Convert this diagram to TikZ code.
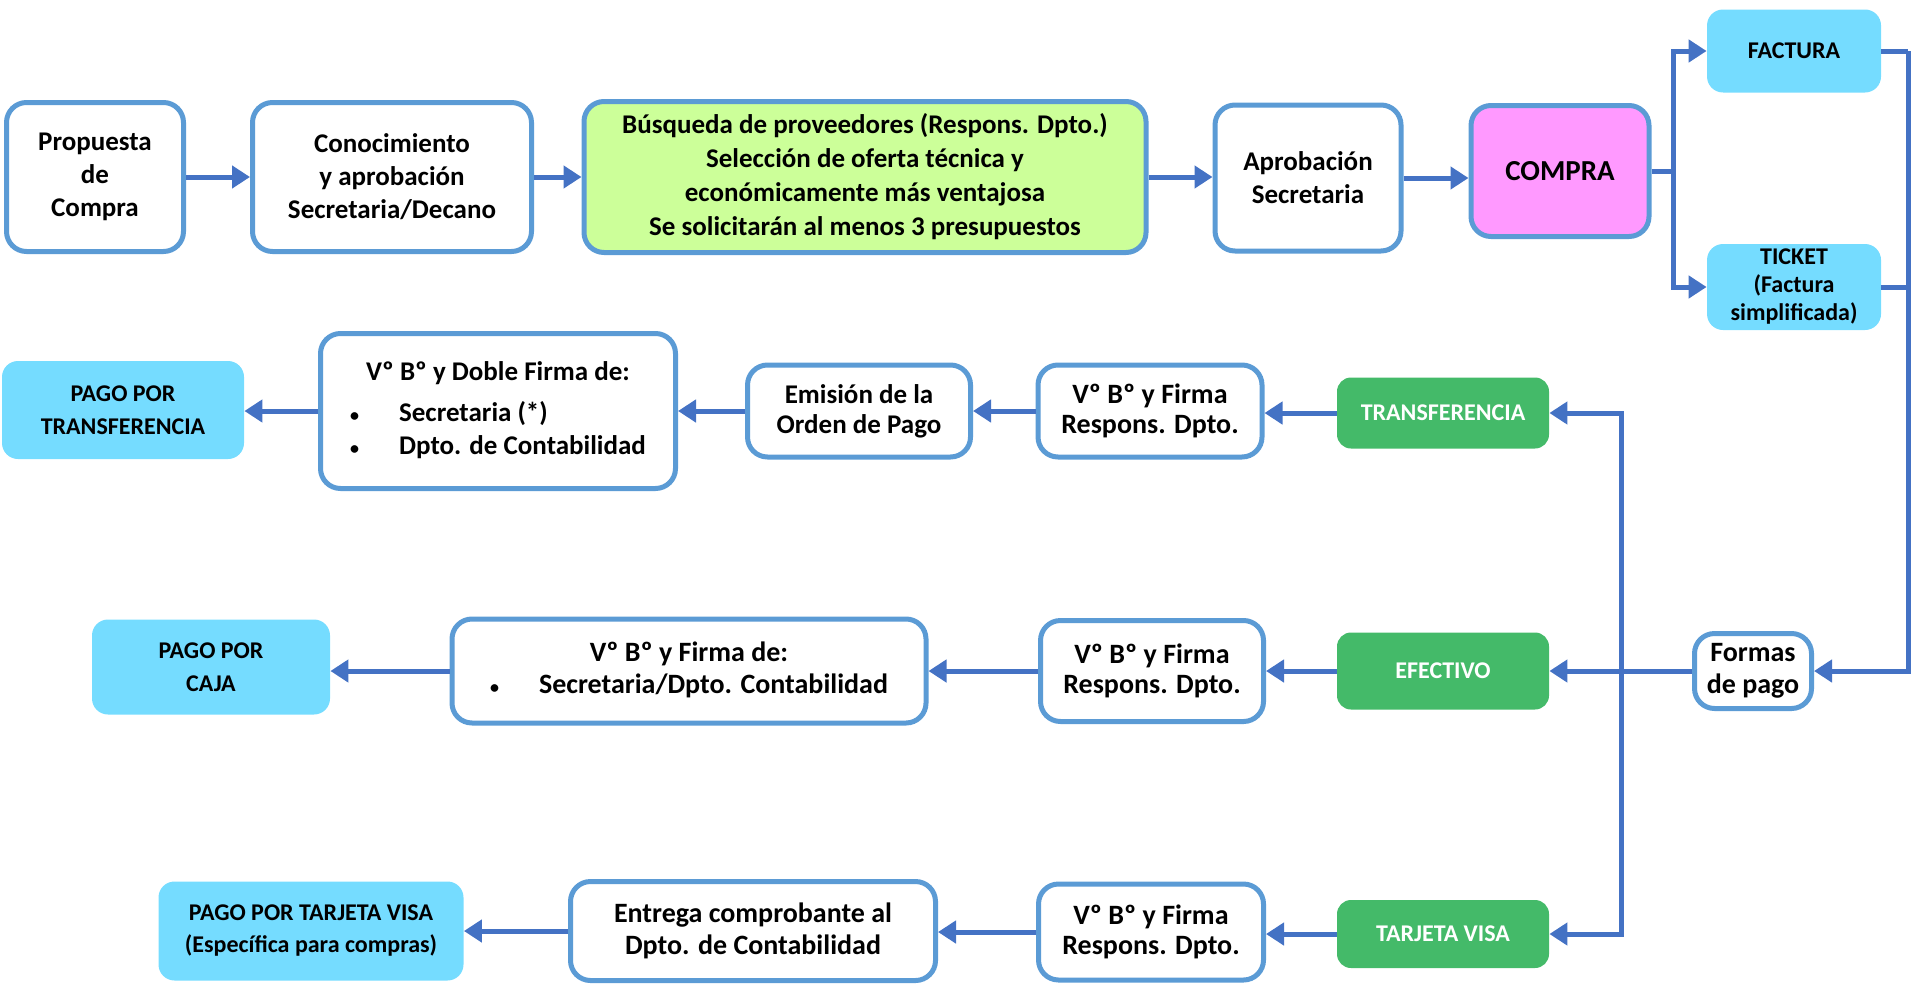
\documentclass[tikz,border=0pt]{standalone}
\usepackage{fontspec}
\setmainfont{Carlito}
\usetikzlibrary{arrows.meta}
\definecolor{bord}{HTML}{5B9BD5}
\definecolor{arrc}{HTML}{4472C4}
\definecolor{grn}{HTML}{44BA69}
\definecolor{lblue}{HTML}{75DCFF}
\definecolor{pinkf}{HTML}{FF99FF}
\definecolor{lgreen}{HTML}{CCFF99}
\newcommand{\fsz}[2]{\fontsize{#1}{#2}\selectfont}
\newcommand{\bul}{{\fsz{9}{9}•}}
\begin{document}
\begin{tikzpicture}[x=0.5pt,y=-0.5pt,
  wbox/.style={draw=bord, line width=2.5pt, rounded corners=10pt, fill=white, align=center, inner sep=0pt, font=\bfseries\fsz{13.5}{16.5}},
  rbox/.style={wbox, font=\bfseries\fsz{14}{15}},
  cbox/.style={fill=lblue, rounded corners=8pt, align=center, inner sep=0pt, font=\bfseries\fsz{12}{16.5}},
  gbox/.style={fill=grn, rounded corners=7pt, align=center, inner sep=0pt, text=white, font=\bfseries\fsz{12}{14}},
  arr/.style={draw=arrc, line width=2.5pt, -{Triangle[length=9pt,width=11pt]}},
  ln/.style={draw=arrc, line width=2.5pt}]
\useasboundingbox (0,0) rectangle (1915,985);
% row 1
\node[wbox, minimum width=88.5pt, minimum height=74.5pt] (prop) at (95,177) {Propuesta\\de\\Compra};
\node[wbox, minimum width=139.5pt, minimum height=74.5pt] (conoc) at (392,177) {Conocimiento\\y aprobación\\Secretaria/Decano};
\node[wbox, fill=lgreen, minimum width=281pt, minimum height=75.5pt, font=\bfseries\fsz{13.5}{17}] (busq) at (865,177) {Búsqueda de proveedores (Respons. Dpto.)\\Selección de oferta técnica y\\económicamente más ventajosa\\Se solicitarán al menos 3 presupuestos};
\node[wbox, minimum width=93pt, minimum height=73pt] (aprob) at (1308,178) {Aprobación\\Secretaria};
\node[wbox, fill=pinkf, minimum width=89pt, minimum height=65.5pt, font=\bfseries\fsz{14.5}{17}] (compra) at (1560,171) {COMPRA};
\node[cbox, minimum width=87pt, minimum height=41.5pt] (fact) at (1794,51) {FACTURA};
\node[cbox, minimum width=87pt, minimum height=43pt, font=\bfseries\fsz{12}{14}] (ticket) at (1794,287) {TICKET\\(Factura\\simplificada)};
% row 2
\node[cbox, minimum width=121pt, minimum height=49pt] (pagoT) at (123,410) {PAGO POR\\TRANSFERENCIA};
\node[wbox, minimum width=177.5pt, minimum height=77.5pt, font=\bfseries\fsz{13.5}{16.5}] (doble) at (498,411) {\begin{tabular}{@{}l@{\hspace{20pt}}l@{}}\multicolumn{2}{c}{Vº Bº y Doble Firma de:}\\[4pt] \bul & Secretaria (*)\\ \bul & Dpto. de Contabilidad\end{tabular}};
\node[rbox, minimum width=111.5pt, minimum height=46pt, font=\bfseries\fsz{13.5}{15}] (emis) at (859,411) {Emisión de la\\Orden de Pago};
\node[rbox, minimum width=112pt, minimum height=46pt] (respT) at (1150,411) {Vº Bº y Firma\\Respons. Dpto.};
\node[gbox, minimum width=106pt, minimum height=35.5pt] (transf) at (1443,413) {TRANSFERENCIA};
% row 3
\node[cbox, minimum width=119pt, minimum height=47.5pt] (pagoC) at (211,667) {PAGO POR\\CAJA};
\node[rbox, minimum width=237pt, minimum height=52pt, font=\bfseries\fsz{14}{16}] (firmaC) at (689,671) {\begin{tabular}{@{}l@{\hspace{20pt}}l@{}}\multicolumn{2}{c}{Vº Bº y Firma de:}\\ \bul & Secretaria/Dpto. Contabilidad\end{tabular}};
\node[rbox, minimum width=111.5pt, minimum height=50.5pt] (respC) at (1152,671) {Vº Bº y Firma\\Respons. Dpto.};
\node[gbox, minimum width=106pt, minimum height=38.5pt] (efect) at (1443,671) {EFECTIVO};
\node[wbox, minimum width=58.5pt, minimum height=37.5pt, font=\bfseries\fsz{14}{16}] (formas) at (1753,671) {Formas\\de pago};
% row 4
\node[cbox, minimum width=152.5pt, minimum height=49.5pt, font=\bfseries\fsz{12}{16}] (pagoV) at (311,931) {PAGO POR TARJETA VISA\\(Específica para compras)};
\node[rbox, minimum width=182.5pt, minimum height=49.5pt, font=\bfseries\fsz{14}{16}] (entr) at (753,931) {Entrega comprobante al\\Dpto. de Contabilidad};
\node[rbox, minimum width=112.5pt, minimum height=48pt] (respV) at (1151,932) {Vº Bº y Firma\\Respons. Dpto.};
\node[gbox, minimum width=106pt, minimum height=34pt] (tarj) at (1443,934) {TARJETA VISA};
% coordinates
\coordinate (split) at (1673,171);
\coordinate (rbus) at (1908,51);
\coordinate (lbus) at (1621,671);
% row 1 arrows
\draw[arr] (prop.east) -- (prop.east -| conoc.west);
\draw[arr] (conoc.east) -- (conoc.east -| busq.west);
\draw[arr] (busq.east) -- (busq.east -| aprob.west);
\draw[arr] (aprob.east) -- (aprob.east -| compra.west);
\draw[ln] (compra.east) -- (split);
\draw[arr] (split) |- (fact.west);
\draw[arr] (split) |- (ticket.west);
\draw[ln] (fact.east) -- (rbus);
\draw[ln] (ticket.east) -- (ticket.east -| rbus);
\draw[arr] (rbus) |- (formas.east);
% formas to methods
\draw[arr] (formas.west) -- (efect.east);
\draw[arr] (lbus) |- (transf.east);
\draw[arr] (lbus) |- (tarj.east);
% row 2
\draw[arr] (transf.west) -- (transf.west -| respT.east);
\draw[arr] (respT.west) -- (respT.west -| emis.east);
\draw[arr] (emis.west) -- (emis.west -| doble.east);
\draw[arr] (doble.west) -- (doble.west -| pagoT.east);
% row 3
\draw[arr] (efect.west) -- (efect.west -| respC.east);
\draw[arr] (respC.west) -- (respC.west -| firmaC.east);
\draw[arr] (firmaC.west) -- (firmaC.west -| pagoC.east);
% row 4
\draw[arr] (tarj.west) -- (tarj.west -| respV.east);
\draw[arr] (respV.west) -- (respV.west -| entr.east);
\draw[arr] (entr.west) -- (entr.west -| pagoV.east);
\end{tikzpicture}
\end{document}
